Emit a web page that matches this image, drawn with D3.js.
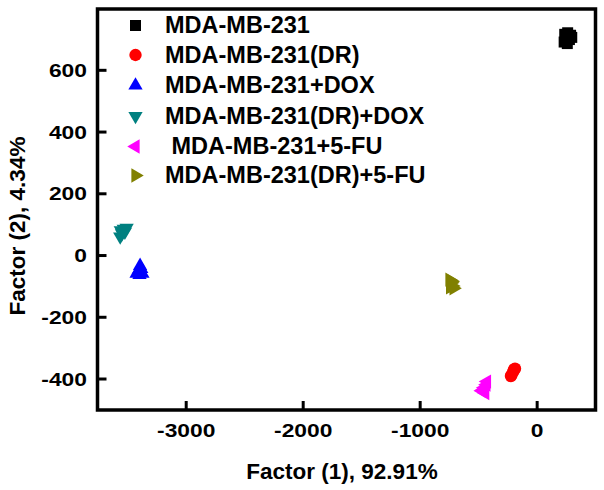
<!DOCTYPE html>
<html><head><meta charset="utf-8">
<script src="https://cdn.jsdelivr.net/npm/d3@7"></script>
<style>body{margin:0;background:#fff;} svg{display:block;}</style>
</head><body>
<svg id="c" width="604" height="490"></svg>
<script>
const seriesNames = ["MDA-MB-231","MDA-MB-231(DR)","MDA-MB-231+DOX","MDA-MB-231(DR)+DOX"," MDA-MB-231+5-FU","MDA-MB-231(DR)+5-FU"];
const seriesColors = ["#000000","#ff0000","#0000ff","#008080","#ff00ff","#808000"];
const seriesShapes = ["square","circle","up","down","left","right"];
const mb231 = [[240,715],[265,720],[290,712],[255,700],[280,698],[235,690],[262,685],[300,705]];
const mb231DR = [[-194,-371],[-185,-368],[-200,-378],[-215,-389],[-220,-392]];
const mb231DOX = [[-3390,-35],[-3400,-48],[-3380,-45],[-3420,-60],[-3370,-60],[-3395,-64]];
const mb231DRDOX = [[-3560,60],[-3545,70],[-3530,85],[-3505,88],[-3520,75],[-3555,80]];
const mb231FU = [[-470,-440],[-450,-430],[-430,-420],[-440,-447],[-425,-410],[-455,-437]];
const mb231DRFU = [[-745,-80],[-730,-90],[-720,-100],[-710,-108],[-740,-105],[-725,-85]];
const seriesData = [mb231, mb231DR, mb231DOX, mb231DRDOX, mb231FU, mb231DRFU];
const xTicks = [-3000,-2000,-1000,0];
const yTicks = [-400,-200,0,200,400,600];
const xTitle = "Factor (1), 92.91%";
const yTitle = "Factor (2), 4.34%";

const svg = d3.select("#c");
const L = 97.5, R = 595.5, T = 9, B = 410;
const x = d3.scaleLinear().domain([-3754, 503]).range([L, R]);
const y = d3.scaleLinear().domain([-502, 797]).range([B, T]);
const font = "'Liberation Sans', Arial, sans-serif";

function symPath(shape){
  if (shape === "square") return d3.symbol(d3.symbolSquare, 121)();
  if (shape === "circle") return d3.symbol(d3.symbolCircle, 120)();
  return d3.symbol(d3.symbolTriangle, 88)();
}
const rot = {up:0, down:180, left:-90, right:90, square:0, circle:0};

// points
seriesData.forEach((pts, i) => {
  svg.append("g").selectAll("path").data(pts).join("path")
    .attr("d", symPath(seriesShapes[i]))
    .attr("transform", d => `translate(${x(d[0])},${y(d[1])}) rotate(${rot[seriesShapes[i]]})`)
    .attr("fill", seriesColors[i]);
});

// axes
const fmt = d => String(d);
const gx = svg.append("g").attr("transform", `translate(0,${B})`)
  .call(d3.axisBottom(x).tickValues(xTicks).tickSize(-9).tickFormat(fmt));
const gy = svg.append("g").attr("transform", `translate(${L},0)`)
  .call(d3.axisLeft(y).tickValues(yTicks).tickSize(-9).tickFormat(fmt));
[gx, gy].forEach(g => {
  g.select(".domain").remove();
  g.selectAll(".tick line").attr("stroke", "#000").attr("stroke-width", 3);
  g.selectAll(".tick text").attr("font-family", font).attr("font-weight", "bold")
    .attr("font-size", 19).attr("fill", "#000");
});
gx.selectAll(".tick text").attr("y", 27).attr("dy", 0).attr("transform", "scale(1.2,1)");
gy.selectAll(".tick text").attr("x", -8.8).attr("dy", "0.35em").attr("transform", "scale(1.2,1)");

// frame
svg.append("rect").attr("x", L).attr("y", T).attr("width", R - L).attr("height", B - T)
  .attr("fill", "none").attr("stroke", "#000").attr("stroke-width", 3.5);

// titles
svg.append("text").attr("x", 342).attr("y", 479).attr("text-anchor", "middle")
  .attr("font-family", font).attr("font-weight", "bold").attr("font-size", 22.5).text(xTitle);
svg.append("text").attr("transform", "translate(25,226) rotate(-90)").attr("text-anchor", "middle")
  .attr("font-family", font).attr("font-weight", "bold").attr("font-size", 22.5).text(yTitle);

// legend
const lg = svg.append("g");
const rowsY = [25.5, 55, 85.5, 116, 146.5, 175.5];
seriesNames.forEach((n, i) => {
  lg.append("path").attr("d", symPath(seriesShapes[i]))
    .attr("transform", `translate(135.5,${rowsY[i]}) rotate(${rot[seriesShapes[i]]})`)
    .attr("fill", seriesColors[i]);
  lg.append("text").attr("x", 165).attr("y", rowsY[i] + 7.5)
    .attr("font-family", font).attr("font-weight", "bold").attr("font-size", 23.5)
    .attr("xml:space", "preserve").style("white-space", "pre").text(n);
});
</script>
</body></html>
